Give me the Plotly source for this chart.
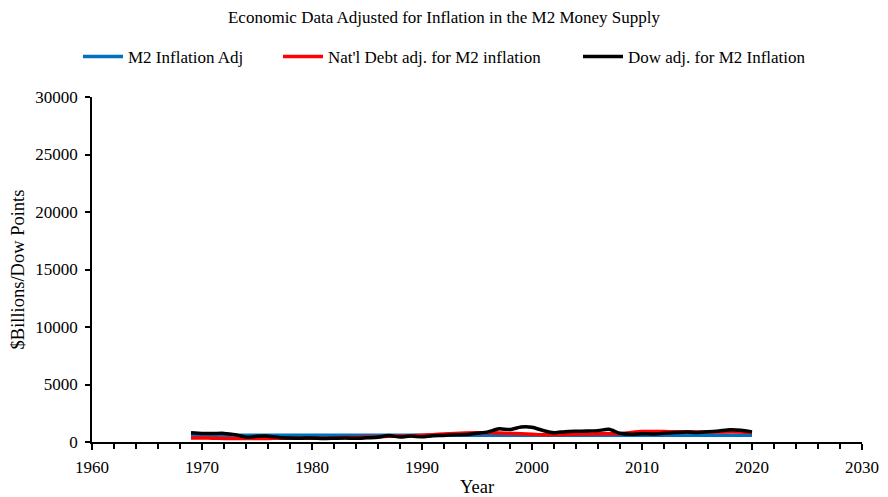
import plotly.graph_objects as go

years = list(range(1969, 2021))

m2_adj = [590] * len(years)

debt_adj = [354, 348, 330, 313, 314, 309, 307, 314, 320, 328,
            326, 335, 335, 353, 382, 402, 431, 459, 490, 513,
            534, 582, 640, 699, 747, 791, 806, 808, 792, 745,
            719, 680, 631, 637, 660, 678, 700, 710, 711, 722,
            827, 909, 903, 906, 895, 900, 867, 874, 862, 884,
            875, 831]

dow_adj = [800, 740, 737, 748, 640, 420, 491, 509, 400, 352,
           331, 355, 300, 324, 350, 320, 366, 410, 560, 427,
           515, 450, 553, 567, 636, 646, 760, 880, 1150, 1080,
           1300, 1280, 1000, 800, 900, 930, 947, 990, 1100, 760,
           680, 720, 700, 760, 820, 880, 833, 882, 960, 1060,
           1020, 880]

series = [
    ("M2 Inflation Adj", m2_adj, "#0070C0"),
    ("Nat'l Debt adj. for M2 inflation", debt_adj, "#FF0000"),
    ("Dow adj. for M2 Inflation", dow_adj, "#000000"),
]

font_family = "Liberation Serif, Times New Roman, serif"
legend_ids = ["legend", "legend2", "legend3"]
legend_left_px = [78, 278, 578]

fig = go.Figure()
for (name, vals, color), lid in zip(series, legend_ids):
    fig.add_trace(go.Scatter(x=years, y=vals, mode="lines", name=name, legend=lid,
                             line=dict(color=color, width=3.5, shape="spline", smoothing=0.6)))

legend_common = dict(orientation="h", xanchor="left", xref="container",
                     y=1 - 57 / 497, yanchor="middle", yref="container",
                     font=dict(size=17, family=font_family, color="#000"),
                     itemwidth=40, bgcolor="rgba(0,0,0,0)")

layout_legends = {}
for lid, px in zip(legend_ids, legend_left_px):
    layout_legends[lid] = dict(legend_common, x=px / 888)

fig.update_layout(
    width=888, height=497,
    paper_bgcolor="white", plot_bgcolor="white",
    margin=dict(l=92, r=26, t=97, b=55),
    font=dict(family=font_family, size=17, color="#000"),
    title=dict(text="Economic Data Adjusted for Inflation in the M2 Money Supply",
               x=0.5, xanchor="center", y=1 - 17 / 497, yanchor="middle",
               yref="container", font=dict(size=17, family=font_family, color="#000")),
    showlegend=True,
    **layout_legends,
    xaxis=dict(range=[1960, 2030], dtick=10, tick0=1960, showgrid=False, zeroline=False,
               automargin=False,
               showline=True, linecolor="#000", linewidth=1.5,
               ticks="outside", ticklen=6, tickcolor="#000", tickwidth=1.5,
               ticklabelstandoff=3,
               minor=dict(dtick=2, ticks="outside", ticklen=5, tickcolor="#000", tickwidth=1.5),
               title=dict(text="Year", font=dict(size=18.5, family=font_family), standoff=4),
               tickfont=dict(size=17, family=font_family)),
    yaxis=dict(range=[0, 30000], dtick=5000, showgrid=False, zeroline=False,
               automargin=False, tickformat="d",
               showline=True, linecolor="#000", linewidth=1.5,
               ticks="outside", ticklen=5, tickcolor="#000", tickwidth=1.5,
               ticklabelstandoff=4,
               title=dict(text="$Billions/Dow Points", font=dict(size=18.5, family=font_family), standoff=6),
               tickfont=dict(size=17, family=font_family)),
)

fig.write_html("out.html", config={"displayModeBar": False},
               post_script="document.body.style.margin='0';document.body.style.padding='0';")
